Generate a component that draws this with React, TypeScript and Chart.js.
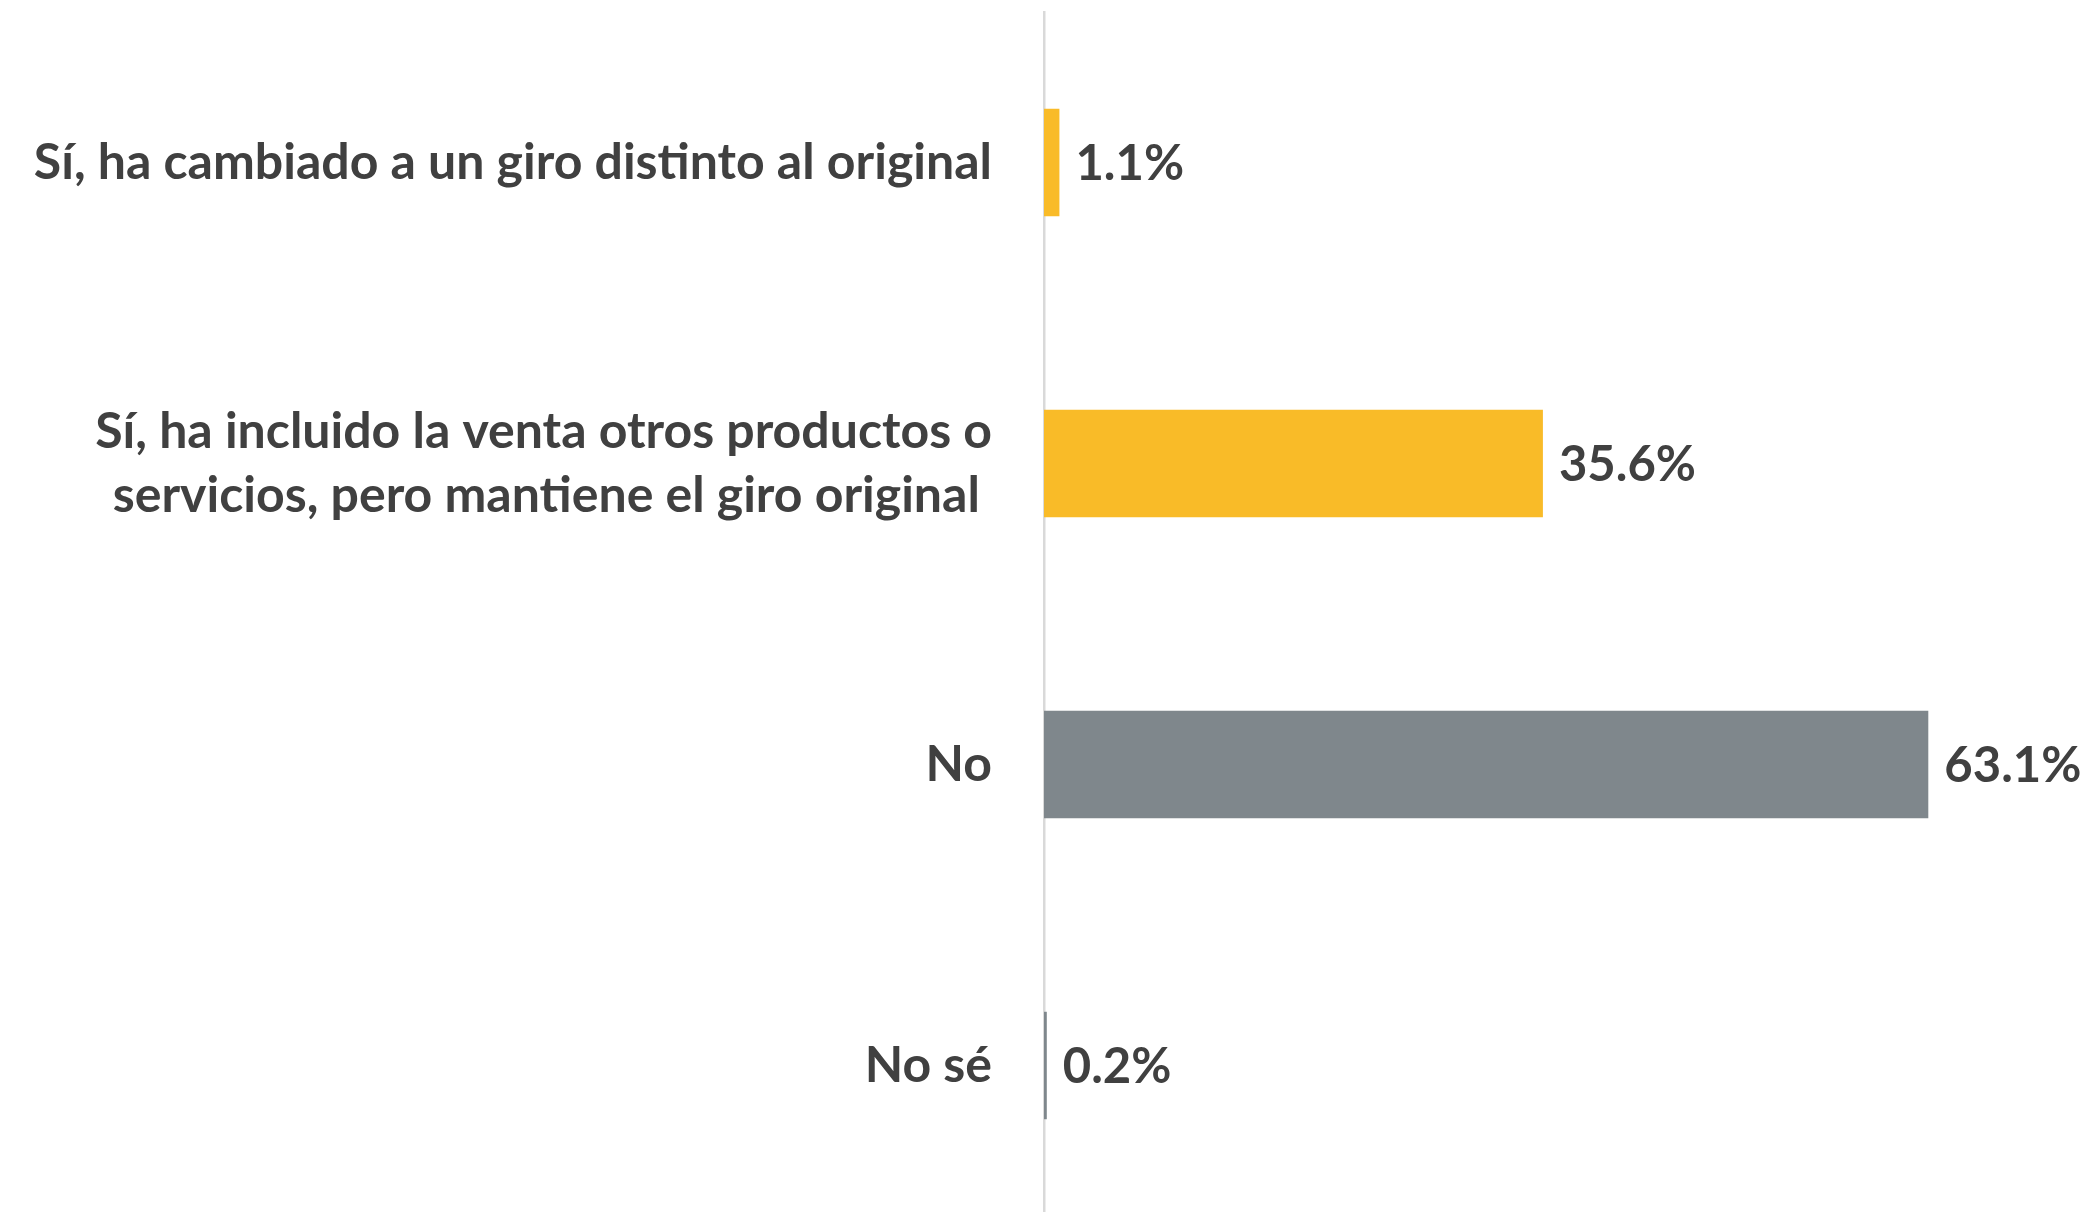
import React, { useEffect, useRef } from "react";
import { Chart, registerables } from "chart.js";

Chart.register(...registerables);

const categories: (string | string[])[] = [
  "Sí, ha cambiado a un giro distinto al original",
  ["Sí, ha incluido la venta otros productos o", "servicios, pero mantiene el giro original "],
  "No",
  "No sé",
];
const values: number[] = [1.1, 35.6, 63.1, 0.2];
const barColors: string[] = ["#F9BB28", "#F9BB28", "#7F878C", "#7F878C"];

const TEXT_COLOR = "#404040";
const FONT_FAMILY = "Lato, 'Open Sans', sans-serif";
const TICK_FONT_SIZE = 50;
const VALUE_FONT_SIZE = 49;
const CANVAS_W = 2086;
const CANVAS_H = 1216;

const valueLabels = {
  id: "valueLabels",
  afterDatasetsDraw(chart: any) {
    const ctx = chart.ctx;
    const meta = chart.getDatasetMeta(0);
    ctx.save();
    ctx.font = `bold ${VALUE_FONT_SIZE}px ${FONT_FAMILY}`;
    ctx.fillStyle = TEXT_COLOR;
    ctx.textAlign = "left";
    ctx.textBaseline = "middle";
    meta.data.forEach((el: any, i: number) => {
      ctx.fillText(`${values[i].toFixed(1)}%`, el.x + 16, el.y + 2);
    });
    ctx.restore();
  },
};

export default function App() {
  const ref = useRef<HTMLCanvasElement | null>(null);
  useEffect(() => {
    document.body.style.margin = "0";
    document.body.style.overflow = "hidden";
    if (!ref.current) return;
    const chart = new Chart(ref.current, {
      type: "bar",
      data: {
        labels: categories,
        datasets: [
          {
            data: values,
            backgroundColor: barColors,
            borderWidth: 0,
            categoryPercentage: 1,
            barPercentage: 0.357,
          },
        ],
      },
      options: {
        indexAxis: "y",
        animation: false,
        responsive: false,
        maintainAspectRatio: false,
        layout: { padding: { top: 12, bottom: 0, left: 0, right: 61 } },
        plugins: {
          legend: { display: false },
          tooltip: { enabled: false },
          title: { display: false },
        },
        scales: {
          x: {
            display: false,
            min: 0,
            max: 70,
          },
          y: {
            grid: { display: false, drawTicks: false },
            border: { display: true, color: "#D9D9D9", width: 2.5 },
            ticks: {
              color: TEXT_COLOR,
              padding: 52,
              font: { family: FONT_FAMILY, size: TICK_FONT_SIZE, weight: "bold", lineHeight: 1.28 },
            },
            afterFit(scale: any) {
              scale.width = 1044;
              scale.paddingTop = 0;
              scale.paddingBottom = 0;
            },
          },
        },
      },
      plugins: [valueLabels],
    });
    return () => chart.destroy();
  }, []);
  return (
    <div style={{ width: CANVAS_W, height: 1212, overflow: "hidden" }}>
      <canvas
        ref={ref}
        width={CANVAS_W}
        height={CANVAS_H}
        style={{ display: "block", width: CANVAS_W, height: CANVAS_H }}
      />
    </div>
  );
}
